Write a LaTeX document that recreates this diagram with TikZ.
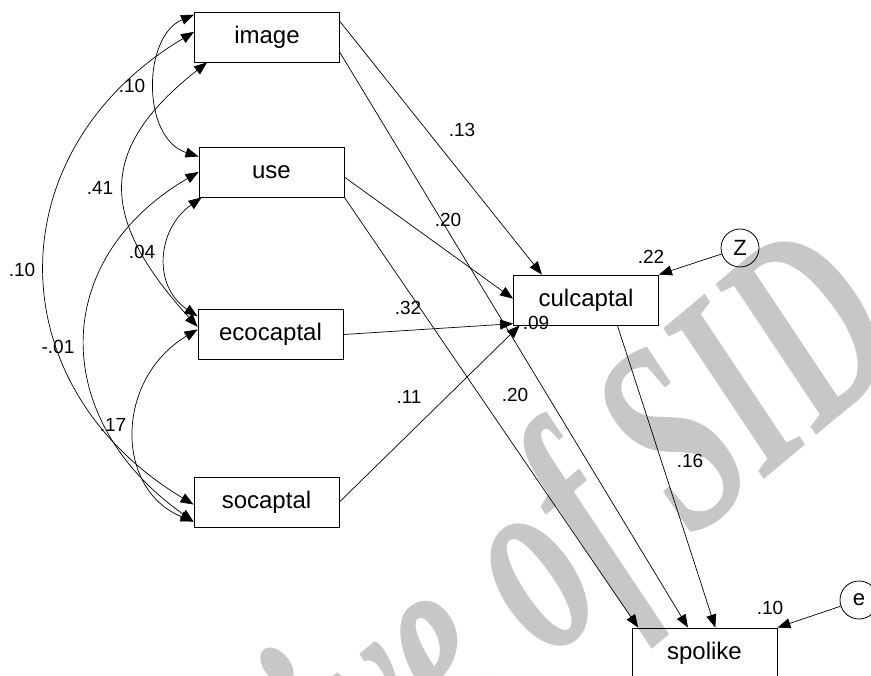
\documentclass[tikz,border=0pt]{standalone}
\usepackage{fontspec}
\setmainfont{Liberation Sans}
\newfontfamily\wmfont[FakeStretch=0.63]{Liberation Serif}
\usetikzlibrary{arrows.meta}
\begin{document}
\begin{tikzpicture}[x=1pt,y=1pt,
  var/.style={draw, line width=0.9pt, rectangle, minimum width=145pt, minimum height=50pt, inner sep=0pt, font=\fontsize{24}{28}\selectfont},
  err/.style={draw, line width=0.8pt, circle, minimum size=38pt, inner sep=0pt, font=\fontsize{22}{26}\selectfont},
  lab/.style={font=\fontsize{19}{22}\selectfont, inner sep=0pt},
  path/.style={-{Triangle[length=13pt,width=10pt]}, line width=0.7pt},
  cov/.style={{Triangle[length=13pt,width=10pt]}-{Triangle[length=13pt,width=10pt]}, line width=0.7pt},
  wm/.style={text=black!22, font=\wmfont\bfseries\itshape\fontsize{275}{275}\selectfont, inner sep=0pt}
]
\useasboundingbox (0,0) rectangle (871,-676);
\begin{scope}
\clip (0,0) rectangle (871,-676);
\node[wm, rotate=40, anchor=mid east] (mark) at (912,-352) {Archive of SID};
\node[var] (spolike) at (704.5,-653) {spolike};
\node[err] (e) at (859,-600) {e};
\end{scope}

\node[var] (image) at (267,-37) {image};
\node[var] (use) at (271.5,-172) {use};
\node[var] (ecocaptal) at (270.5,-334.5) {ecocaptal};
\node[var] (socaptal) at (266.5,-502) {socaptal};
\node[var] (culcaptal) at (586,-300) {culcaptal};
\node[err] (Z) at (740,-248) {Z};

% regression paths
\draw[path] (image.12) -- (culcaptal.150);
\draw[path] (image.-12) -- (spolike.123);
\draw[path] (use.-4) -- (culcaptal.179);
\draw[path] (use.south east) -- (spolike.159);
\draw[path] (ecocaptal.east) -- (culcaptal.198);
\draw[path] (socaptal.east) -- (culcaptal.201);
\draw[path] (culcaptal.-39) -- (spolike.67);
\draw[path] (Z) -- (culcaptal.north east);
\draw[path] (e) -- (spolike.north east);

% covariances
\draw[cov] (image.163) .. controls +(-52,-22) and +(-57,18) .. (use.168);
\draw[cov] (image.176) .. controls +(-198.5,-119) and +(-197.5,119) .. (socaptal.182);
\draw[cov] (image.203) .. controls +(-109,-86) and +(-100,110) .. (ecocaptal.174);
\draw[cov] (use.180) .. controls +(-150,-88) and +(-144,102) .. (socaptal.195);
\draw[cov] (use.200) .. controls +(-45,-32) and +(-45,30) .. (ecocaptal.166);
\draw[cov] (ecocaptal.176) .. controls +(-83,-50) and +(-79,32) .. (socaptal.195);

% labels
\node[lab] (l1) at (462,-130) {.13};
\node[lab] (l2) at (448,-220) {.20};
\node[lab] (l3) at (408,-308) {.32};
\node[lab] (l4) at (536,-323) {.09};
\node[lab] (l5) at (409,-397) {.11};
\node[lab] (l6) at (515,-395) {.20};
\node[lab] (l7) at (651,-257) {.22};
\node[lab] (l8) at (690,-461) {.16};
\node[lab] (l9) at (770,-608) {.10};
\node[lab] (l10) at (132,-86) {.10};
\node[lab] (l11) at (100,-188) {.41};
\node[lab] (l12) at (142,-252) {.04};
\node[lab] (l13) at (22,-270) {.10};
\node[lab] (l14) at (58,-347) {-.01};
\node[lab] (l15) at (113,-425) {.17};
\end{tikzpicture}
\end{document}
